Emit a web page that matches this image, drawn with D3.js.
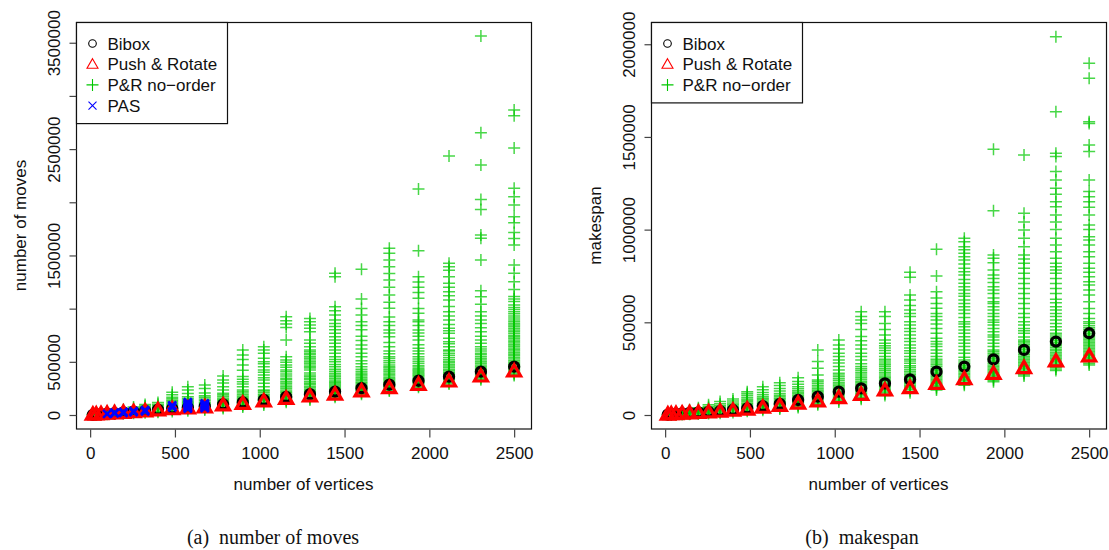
<!DOCTYPE html>
<html>
<head>
<meta charset="utf-8">
<script src="https://cdn.jsdelivr.net/npm/d3@7"></script>
<style>
  body { margin: 0; background: #fff; }
  text { font-family: "Liberation Sans", Arial, sans-serif; }
</style>
</head>
<body>
<svg id="chart" width="1109" height="550"></svg>
<script>
// number of vertices of each instance group (x positions of the columns)
const vertices = [16, 36, 64, 100, 144, 196, 256, 324, 400, 484, 576, 676, 784, 900, 1024, 1156, 1296, 1444, 1600, 1764, 1936, 2116, 2304, 2500];

// all values below are in thousands
const biboxMoves = [2, 5, 9, 13, 18, 24, 31, 38, 50, 60, 70, 82, 100, 118, 142, 170, 196, 220, 252, 285, 322, 360, 407, 454];
const prMoves = [1, 3, 6, 10, 14, 19, 25, 32, 42, 52, 60, 70, 88, 103, 125, 150, 172, 190, 220, 250, 282, 313, 360, 407];

const noOrderMoves = [
  [0, 3, 6, 10],
  [2, 6, 10, 15],
  [4, 9, 14, 20],
  [6, 12, 18, 26, 33],
  [9, 16, 24, 33, 42],
  [12, 21, 30, 40, 52],
  [16, 26, 37, 49, 62, 75],
  [21, 33, 44, 57, 70, 84, 98],
  [25, 36, 49, 61, 73, 86, 100, 118],
  [33, 47, 61, 74, 88, 101, 113, 126, 139, 152, 166, 190, 214],
  [40, 53, 66, 78, 91, 103, 116, 128, 141, 156, 171, 201, 236, 266],
  [46, 58, 71, 83, 96, 109, 121, 136, 151, 166, 181, 206, 250, 282],
  [60, 73, 86, 98, 111, 123, 136, 149, 161, 176, 191, 204, 236, 266, 301, 329, 367],
  [76, 89, 101, 113, 126, 139, 151, 163, 176, 191, 206, 221, 236, 266, 291, 313, 336, 361, 421, 470, 521, 564, 611],
  [95, 108, 121, 133, 146, 158, 171, 183, 196, 211, 226, 236, 266, 298, 329, 351, 376, 401, 423, 454, 481, 501, 533, 581, 611, 642],
  [121, 133, 146, 158, 171, 183, 196, 209, 221, 236, 251, 266, 282, 298, 313, 331, 346, 366, 386, 406, 423, 448, 470, 496, 517, 548, 705, 823, 856, 886, 924],
  [141, 153, 166, 178, 191, 203, 216, 228, 241, 256, 271, 286, 298, 313, 331, 346, 361, 376, 396, 423, 441, 454, 471, 486, 501, 517, 533, 548, 566, 581, 596, 611, 642, 674, 705, 783, 815, 846, 877, 908],
  [166, 178, 191, 203, 216, 228, 241, 253, 266, 279, 291, 303, 316, 329, 346, 361, 376, 392, 411, 431, 454, 476, 501, 521, 548, 581, 611, 641, 674, 705, 736, 768, 801, 831, 861, 893, 941, 981, 1018, 1300, 1332],
  [196, 208, 221, 233, 246, 258, 271, 283, 296, 308, 321, 336, 351, 366, 381, 396, 411, 431, 454, 481, 511, 548, 581, 621, 658, 701, 741, 801, 841, 877, 941, 1001, 1090, 1370],
  [226, 238, 251, 263, 276, 288, 301, 313, 326, 338, 351, 366, 381, 396, 411, 426, 441, 454, 471, 491, 511, 531, 548, 576, 601, 642, 681, 736, 771, 799, 841, 877, 921, 1003, 1061, 1128, 1201, 1269, 1331, 1395, 1457, 1521, 1567],
  [261, 273, 286, 298, 311, 323, 336, 348, 361, 373, 386, 398, 411, 423, 436, 451, 466, 486, 506, 526, 548, 576, 601, 627, 661, 705, 741, 771, 799, 841, 877, 893, 956, 1001, 1097, 1151, 1201, 1251, 1301, 1545, 2125],
  [291, 303, 316, 328, 341, 353, 366, 378, 391, 403, 416, 431, 446, 461, 476, 491, 506, 521, 541, 561, 581, 601, 611, 641, 671, 689, 721, 768, 791, 815, 851, 893, 931, 971, 1021, 1081, 1121, 1159, 1201, 1238, 1301, 1361, 1395, 1426, 2435],
  [331, 343, 356, 368, 381, 393, 406, 418, 431, 443, 456, 471, 486, 501, 516, 531, 548, 566, 581, 601, 621, 641, 674, 705, 741, 783, 821, 861, 893, 931, 971, 1041, 1112, 1169, 1457, 1661, 1692, 1933, 2027, 2350, 2654, 3563],
  [371, 383, 396, 408, 421, 433, 446, 458, 471, 483, 496, 511, 526, 541, 556, 571, 586, 601, 616, 631, 646, 661, 676, 691, 705, 721, 736, 751, 768, 786, 799, 816, 831, 846, 861, 877, 893, 911, 931, 951, 971, 991, 1011, 1034, 1066, 1091, 1113, 1181, 1254, 1332, 1410, 1598, 1660, 1717, 1808, 1864, 1974, 2052, 2131, 2510, 2814, 2867]
];

const pasVertices = [100, 144, 196, 256, 324, 484, 576, 676];
const pasMoves = [[10], [15, 22], [20, 28], [28, 36], [35, 45], [72, 90], [60, 72, 85, 98, 110, 120], [65, 75, 88, 100, 110]];

const biboxSpan = [2, 4, 6, 8, 11, 14, 17, 21, 27, 36, 48, 60, 81, 99, 126, 144, 171, 192, 234, 261, 300, 351, 396, 441];
const prSpan = [1, 3, 4, 6, 8, 10, 13, 17, 22, 28, 38, 48, 60, 72, 90, 108, 131, 144, 167, 192, 221, 252, 288, 315];

const noOrderSpan = [
  [0, 2, 4, 6],
  [1, 4, 7, 10],
  [2, 5, 9, 13],
  [3, 7, 11, 16, 21],
  [4, 9, 13, 18, 23, 29],
  [6, 11, 16, 21, 27, 33, 39],
  [8, 13, 19, 25, 31, 38, 46, 55],
  [10, 16, 22, 29, 36, 43, 51, 61, 73],
  [14, 21, 28, 35, 42, 49, 57, 65, 76, 87],
  [20, 27, 34, 41, 48, 56, 63, 71, 79, 87, 96, 106, 116, 125],
  [25, 32, 39, 46, 53, 61, 68, 75, 83, 91, 99, 109, 121, 136, 152],
  [32, 39, 46, 54, 61, 68, 75, 83, 91, 99, 107, 116, 129, 143, 159, 174],
  [40, 47, 54, 62, 69, 76, 83, 91, 99, 107, 115, 123, 131, 141, 153, 166, 181, 201],
  [55, 62, 70, 77, 85, 93, 101, 109, 117, 125, 133, 141, 151, 161, 171, 181, 189, 216, 252, 288, 351],
  [70, 78, 87, 95, 103, 111, 119, 127, 135, 143, 151, 159, 167, 176, 186, 196, 206, 216, 225, 243, 261, 281, 297, 316, 333, 356, 378, 405],
  [85, 93, 102, 110, 118, 126, 134, 142, 150, 158, 166, 174, 182, 191, 201, 211, 221, 231, 241, 251, 261, 276, 297, 316, 333, 356, 378, 401, 423, 461, 494, 512, 531, 557],
  [105, 113, 122, 130, 138, 146, 154, 162, 170, 178, 186, 194, 202, 211, 221, 231, 241, 251, 261, 271, 281, 291, 301, 316, 333, 348, 361, 373, 387, 405, 431, 461, 494, 531, 557],
  [120, 128, 137, 145, 153, 161, 169, 177, 185, 193, 201, 209, 217, 226, 236, 246, 256, 266, 279, 291, 301, 316, 333, 346, 361, 378, 396, 413, 431, 451, 467, 486, 503, 531, 548, 566, 591, 620, 647, 743, 770],
  [135, 143, 152, 160, 168, 176, 184, 192, 200, 208, 216, 224, 232, 241, 251, 261, 271, 281, 291, 301, 316, 333, 351, 369, 383, 396, 414, 441, 467, 491, 512, 531, 548, 576, 602, 631, 665, 750, 894],
  [160, 168, 177, 185, 193, 201, 209, 217, 225, 233, 241, 249, 257, 266, 276, 286, 297, 311, 333, 351, 369, 387, 405, 422, 441, 458, 476, 491, 503, 526, 548, 566, 584, 602, 621, 641, 656, 674, 692, 711, 731, 755, 773, 791, 815, 836, 854, 872, 891, 908, 935, 953],
  [180, 188, 197, 205, 213, 221, 229, 237, 245, 253, 261, 270, 279, 288, 297, 306, 315, 324, 333, 342, 351, 369, 387, 405, 421, 431, 449, 467, 485, 501, 512, 531, 548, 566, 584, 601, 611, 631, 656, 674, 692, 715, 737, 755, 782, 821, 845, 863, 1102, 1433],
  [210, 218, 227, 235, 243, 251, 259, 267, 275, 283, 291, 299, 307, 316, 325, 334, 343, 352, 361, 370, 379, 388, 397, 405, 421, 441, 454, 467, 485, 503, 526, 548, 575, 602, 629, 656, 683, 710, 737, 764, 791, 818, 841, 863, 908, 953, 998, 1041, 1088, 1403],
  [240, 248, 257, 265, 273, 281, 289, 297, 305, 313, 321, 329, 337, 346, 355, 364, 373, 382, 391, 401, 411, 421, 431, 441, 458, 476, 494, 512, 531, 548, 566, 584, 605, 625, 656, 683, 710, 737, 764, 782, 800, 818, 845, 881, 917, 953, 1001, 1041, 1079, 1124, 1151, 1191, 1223, 1268, 1313, 1394, 1412, 1636, 2041],
  [270, 278, 287, 295, 303, 311, 319, 327, 335, 343, 351, 359, 367, 375, 383, 391, 399, 407, 415, 423, 431, 441, 451, 461, 471, 481, 494, 503, 521, 548, 575, 611, 647, 674, 701, 719, 746, 770, 791, 818, 854, 881, 917, 944, 962, 1001, 1025, 1079, 1121, 1151, 1178, 1205, 1268, 1421, 1457, 1573, 1582, 1816, 1897]
];

const xTicks = [0, 500, 1000, 1500, 2000, 2500];
const movesTicks = [0, 500000, 1000000, 1500000, 2000000, 2500000, 3000000, 3500000];
const movesLabelled = [0, 500000, 1500000, 2500000, 3500000];
const spanTicks = [0, 500000, 1000000, 1500000, 2000000];

const svg = d3.select("#chart");
const green = "#00C800";

// marker shapes
const plusPath = "M-6,0H6M0,-6V6";
const crossPath = "M-4,-4L4,4M-4,4L4,-4";
const triPath = "M0,-7L6.5,4.3L-6.5,4.3Z";

const drawPanel = (p) => {
    const x = d3.scaleLinear().domain([-83.36, 2599.36]).range([p.left, p.right]);
    const y = d3.scaleLinear().domain(p.yDomain).range([429, 22]);
    const g = svg.append("g");

    // P&R no-order (drawn first, semi transparent)
    const pts = vertices.flatMap((v, i) => p.noOrder[i].map(k => [v, k * 1000]));
    g.append("g").selectAll("path")
        .data(pts)
        .join("path")
        .attr("transform", d => `translate(${x(d[0])},${y(d[1])})`)
        .attr("d", plusPath)
        .attr("fill", "none")
        .attr("stroke", green)
        .attr("stroke-opacity", 0.72)
        .attr("stroke-width", 1.5);

    // Bibox
    g.append("g").selectAll("circle")
        .data(vertices.map((v, i) => [v, p.bibox[i] * 1000]))
        .join("circle")
        .attr("cx", d => x(d[0]))
        .attr("cy", d => y(d[1]))
        .attr("r", 4.5)
        .attr("fill", "none")
        .attr("stroke", "#000")
        .attr("stroke-width", 3.3);

    // Push & Rotate
    g.append("g").selectAll("path")
        .data(vertices.map((v, i) => [v, p.pr[i] * 1000]))
        .join("path")
        .attr("transform", d => `translate(${x(d[0])},${y(d[1])})`)
        .attr("d", triPath)
        .attr("fill", "none")
        .attr("stroke", "#FF0000")
        .attr("stroke-width", 3.2)
        .attr("stroke-linejoin", "miter");

    // PAS
    if (p.pas) {
        const pasPts = pasVertices.flatMap((v, i) => pasMoves[i].map(k => [v, k * 1000]));
        g.append("g").selectAll("path")
            .data(pasPts)
            .join("path")
            .attr("transform", d => `translate(${x(d[0])},${y(d[1])})`)
            .attr("d", crossPath)
            .attr("fill", "none")
            .attr("stroke", "#0000FF")
            .attr("stroke-width", 2.6);
    }

    // box
    g.append("rect")
        .attr("x", p.left + 0.5).attr("y", 22.5)
        .attr("width", p.right - p.left).attr("height", 406.5)
        .attr("fill", "none").attr("stroke", "#111").attr("stroke-width", 1.2);

    // x axis
    const xa = g.append("g")
        .attr("transform", "translate(0,429.5)")
        .call(d3.axisBottom(x).tickValues(xTicks).tickSize(8).tickPadding(9).tickFormat(d3.format("d")));
    xa.select(".domain").remove();
    xa.selectAll("line").attr("stroke", "#444").attr("stroke-width", 1.2);
    xa.selectAll("text").attr("font-size", 17).attr("font-family", "Liberation Sans, Arial, sans-serif").attr("fill", "#111");

    // y axis
    const ya = g.append("g")
        .attr("transform", `translate(${p.left + 0.5},0)`)
        .call(d3.axisLeft(y).tickValues(p.yTicks).tickSize(7)
            .tickFormat(d => p.yLabelled.includes(d) ? d3.format("d")(d) : ""));
    ya.select(".domain").remove();
    ya.selectAll("line").attr("stroke", "#444").attr("stroke-width", 1.2);
    ya.selectAll("text")
        .attr("font-size", 17)
        .attr("font-family", "Liberation Sans, Arial, sans-serif")
        .attr("fill", "#111")
        .attr("text-anchor", "middle")
        .attr("x", 0).attr("y", -17).attr("dy", 0)
        .attr("transform", "rotate(-90)");

    // axis titles
    g.append("text")
        .attr("x", (p.left + p.right) / 2).attr("y", 490)
        .attr("text-anchor", "middle").attr("font-size", 17).attr("fill", "#111")
        .text("number of vertices");
    g.append("text")
        .attr("transform", `translate(${p.left - 50},225.5) rotate(-90)`)
        .attr("text-anchor", "middle").attr("font-size", 17).attr("fill", "#111")
        .text(p.yTitle);

    // legend
    const lg = g.append("g").attr("transform", `translate(${p.left + 0.5},22.5)`);
    lg.append("rect")
        .attr("width", 151).attr("height", 21 + 20.7 * (p.legend.length - 1) + 18)
        .attr("fill", "#fff").attr("stroke", "#111").attr("stroke-width", 1.2);
    p.legend.forEach((e, i) => {
        const cy = 21 + 20.7 * i;
        const s = lg.append("g").attr("transform", `translate(16,${cy})`);
        if (e.shape === "circle") {
            s.append("circle").attr("r", 3.8).attr("fill", "none").attr("stroke", e.color).attr("stroke-width", 1.1);
        } else {
            s.append("path")
                .attr("d", e.shape === "tri" ? "M0,-5.5L5.5,4L-5.5,4Z" : e.shape === "plus" ? plusPath : crossPath)
                .attr("fill", "none").attr("stroke", e.color).attr("stroke-width", 1.1);
        }
        lg.append("text").attr("x", 31).attr("y", cy + 6)
            .attr("font-size", 17).attr("fill", "#111").text(e.label);
    });

    // caption
    svg.append("text")
        .attr("x", p.captionX).attr("y", 544)
        .attr("text-anchor", "middle")
        .style("font-family", "'Liberation Serif', 'Times New Roman', serif")
        .style("font-size", "20px")
        .style("white-space", "pre")
        .attr("fill", "#111")
        .text(p.caption);
};

const legendAll = [
    { label: "Bibox", shape: "circle", color: "#000" },
    { label: "Push & Rotate", shape: "tri", color: "#FF0000" },
    { label: "P&R no\u2212order", shape: "plus", color: green },
    { label: "PAS", shape: "cross", color: "#0000FF" }
];

drawPanel({
    left: 76, right: 531,
    yDomain: [-131600, 3695000],
    yTicks: movesTicks, yLabelled: movesLabelled,
    yTitle: "number of moves",
    noOrder: noOrderMoves, bibox: biboxMoves, pr: prMoves, pas: true,
    legend: legendAll,
    captionX: 273, caption: "(a)  number of moves"
});

drawPanel({
    left: 651, right: 1106,
    yDomain: [-75500, 2120000],
    yTicks: spanTicks, yLabelled: spanTicks,
    yTitle: "makespan",
    noOrder: noOrderSpan, bibox: biboxSpan, pr: prSpan, pas: false,
    legend: legendAll.slice(0, 3),
    captionX: 862, caption: "(b)  makespan"
});
</script>
</body>
</html>
